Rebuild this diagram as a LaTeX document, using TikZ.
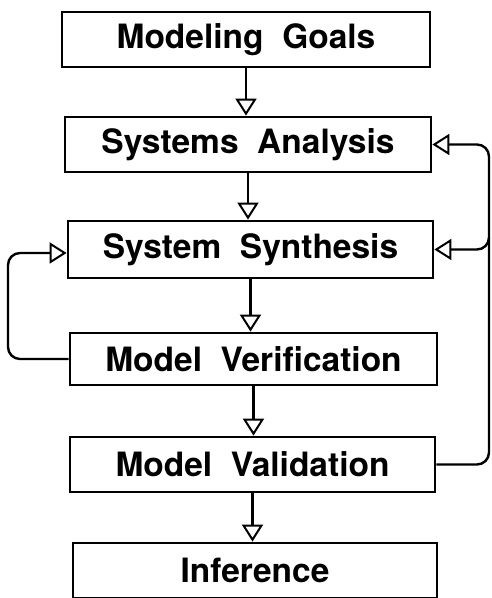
\documentclass[tikz,border=0pt]{standalone}
\usepackage{fontspec}
\setmainfont{TeX Gyre Heros}
\usetikzlibrary{arrows.meta}
\begin{document}
\begin{tikzpicture}[x=1pt,y=1pt,
  stagebox/.style={draw, line width=2.8pt, inner sep=0pt, font=\fontsize{33.5}{38}\selectfont\bfseries},
  flow/.style={line width=2.4pt, -{Triangle[open, length=17pt, width=21pt, line width=2pt]}},
  loop/.style={line width=2.4pt, rounded corners=12pt, -{Triangle[open, length=17pt, width=21pt, line width=2pt]}}]
\useasboundingbox (0,0) rectangle (492,598);
\node[stagebox, minimum width=368pt, minimum height=55pt] (b1) at (246,558.5) {Modeling\ \ Goals};
\node[stagebox, minimum width=366pt, minimum height=55pt] (b2) at (248,453.5) {Systems\ \ Analysis};
\node[stagebox, minimum width=365pt, minimum height=57pt] (b3) at (250.5,348.5) {System\ \ Synthesis};
\node[stagebox, minimum width=367pt, minimum height=52pt] (b4) at (253.5,239) {Model\ \ Verification};
\node[stagebox, minimum width=365pt, minimum height=55pt] (b5) at (252.5,133.5) {Model\ \ Validation};
\node[stagebox, minimum width=364pt, minimum height=55pt] (b6) at (255,27.5) {Inference};
\coordinate (r) at (489,0);
\coordinate (l) at (8,0);
\draw[flow] (b1.south) -- (b1.south |- b2.north);
\draw[flow] (b2.south) -- (b2.south |- b3.north);
\draw[flow] (b3.south) -- (b3.south |- b4.north);
\draw[flow] (b4.south) -- (b4.south |- b5.north);
\draw[flow] (b5.south) -- (b5.south |- b6.north);
\draw[loop] (b5.east) -- (r |- b5.east) -- (r |- b2.east) -- (b2.east);
\draw[loop] (r |- 0,360) -- (r |- b3.east) -- (b3.east);
\draw[loop] (b4.west) -- (l |- b4.west) -- (l |- 0,345) -- (0,345 -| b3.west);
\end{tikzpicture}
\end{document}
